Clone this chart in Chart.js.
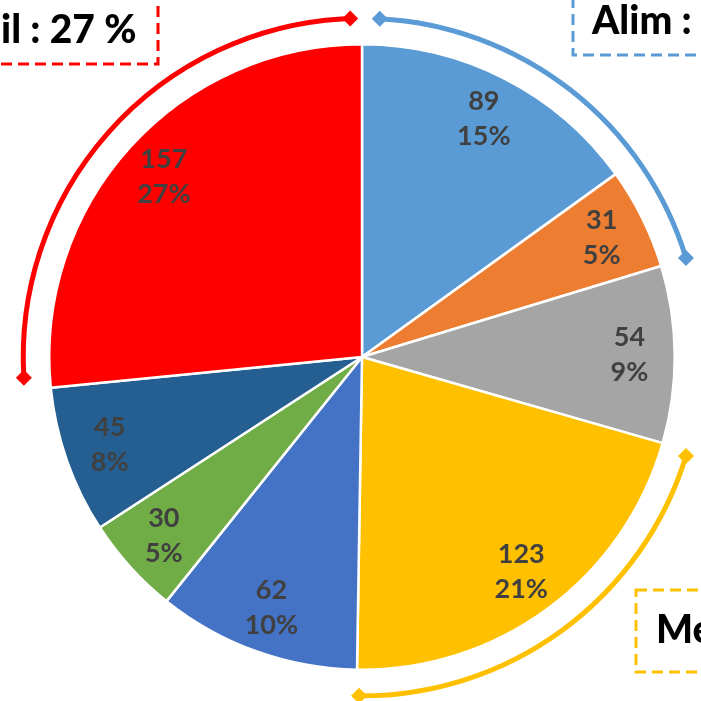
<!DOCTYPE html>
<html>
<head>
<meta charset="utf-8">
<script src="https://cdn.jsdelivr.net/npm/chart.js@4"></script>
<style>
  html, body { margin: 0; padding: 0; background: #fff; }
  #wrap { width: 701px; height: 701px; }
</style>
</head>
<body>
<div id="wrap"><canvas id="myChart" width="701" height="701"></canvas></div>
<script>
// valeurs des parts (dans le sens horaire depuis midi)
const values = [89, 31, 54, 123, 62, 30, 45, 157];
const colors = ["#5B9BD5", "#ED7D31", "#A5A5A5", "#FFC000", "#4472C4", "#70AD47", "#255E91", "#FF0000"];

// groupes annotes autour du camembert
const groupNames = ["il : 27 %", "Alim :", "Me"];
const groupColors = ["#FF0000", "#5B9BD5", "#FFC000"];

const total = values.reduce((a, b) => a + b, 0);

// labels des parts : valeur + pourcentage
const sliceLabels = {
  id: "sliceLabels",
  afterDatasetsDraw(chart) {
    const ctx = chart.ctx;
    const meta = chart.getDatasetMeta(0);
    ctx.save();
    ctx.fillStyle = "#404040";
    ctx.font = "bold 27px Lato";
    ctx.textAlign = "center";
    ctx.textBaseline = "middle";
    meta.data.forEach((arc, i) => {
      const mid = (arc.startAngle + arc.endAngle) / 2;
      const r = arc.outerRadius * 0.855;
      const x = arc.x + Math.cos(mid) * r;
      const y = arc.y + Math.sin(mid) * r;
      const pct = Math.round((values[i] / total) * 100) + "%";
      ctx.fillText(values[i], x, y - 18);
      ctx.fillText(pct, x, y + 17);
    });
    ctx.restore();
  },
};

// arcs fleches + encadres en pointilles
function diamond(ctx, x, y, s, color) {
  ctx.save();
  ctx.fillStyle = color;
  ctx.beginPath();
  ctx.moveTo(x, y - s);
  ctx.lineTo(x + s, y);
  ctx.lineTo(x, y + s);
  ctx.lineTo(x - s, y);
  ctx.closePath();
  ctx.fill();
  ctx.restore();
}

const groupArcs = {
  id: "groupArcs",
  afterDraw(chart) {
    const ctx = chart.ctx;
    const arc0 = chart.getDatasetMeta(0).data[0];
    const cx = arc0.x, cy = arc0.y;
    const R = arc0.outerRadius + 26;
    const deg = Math.PI / 180;
    const arcs = [
      [176.5, 268, groupColors[0]],
      [-87, -17, groupColors[1]],
      [17, 90.5, groupColors[2]],
    ];
    arcs.forEach(([a, b, c]) => {
      ctx.save();
      ctx.strokeStyle = c;
      ctx.lineWidth = 5;
      ctx.beginPath();
      ctx.arc(cx, cy, R, a * deg, b * deg);
      ctx.stroke();
      ctx.restore();
      diamond(ctx, cx + Math.cos(a * deg) * R, cy + Math.sin(a * deg) * R, 8, c);
      diamond(ctx, cx + Math.cos(b * deg) * R, cy + Math.sin(b * deg) * R, 8, c);
    });

    // encadres
    const boxes = [
      [-20, -20, 178, 84, 1, 30, groupNames[0], groupColors[0]],
      [573, -20, 160, 75, 592, 21, groupNames[1], groupColors[1]],
      [636, 590, 100, 82, 656, 630, groupNames[2], groupColors[2]],
    ];
    boxes.forEach(([bx, by, bw, bh, tx, ty, txt, c]) => {
      ctx.save();
      ctx.fillStyle = "#fff";
      ctx.fillRect(bx, by, bw, bh);
      ctx.strokeStyle = c;
      ctx.lineWidth = 3;
      ctx.setLineDash([11, 6]);
      ctx.strokeRect(bx, by, bw, bh);
      ctx.setLineDash([]);
      ctx.fillStyle = "#000";
      ctx.font = "900 39px Lato";
      ctx.textAlign = "left";
      ctx.textBaseline = "middle";
      ctx.fillText(txt, tx, ty);
      ctx.restore();
    });
  },
};

const ctx = document.getElementById("myChart").getContext("2d");
const myChart = new Chart(ctx, {
  type: "pie",
  data: {
    labels: values.map(String),
    datasets: [
      {
        data: values,
        backgroundColor: colors,
        borderColor: "#ffffff",
        borderWidth: 2.5,
      },
    ],
  },
  options: {
    responsive: false,
    animation: false,
    layout: {
      padding: { left: 48, top: 43, right: 25, bottom: 30 },
    },
    plugins: {
      legend: { display: false },
      tooltip: { enabled: false },
    },
  },
  plugins: [sliceLabels, groupArcs],
});
</script>
</body>
</html>
